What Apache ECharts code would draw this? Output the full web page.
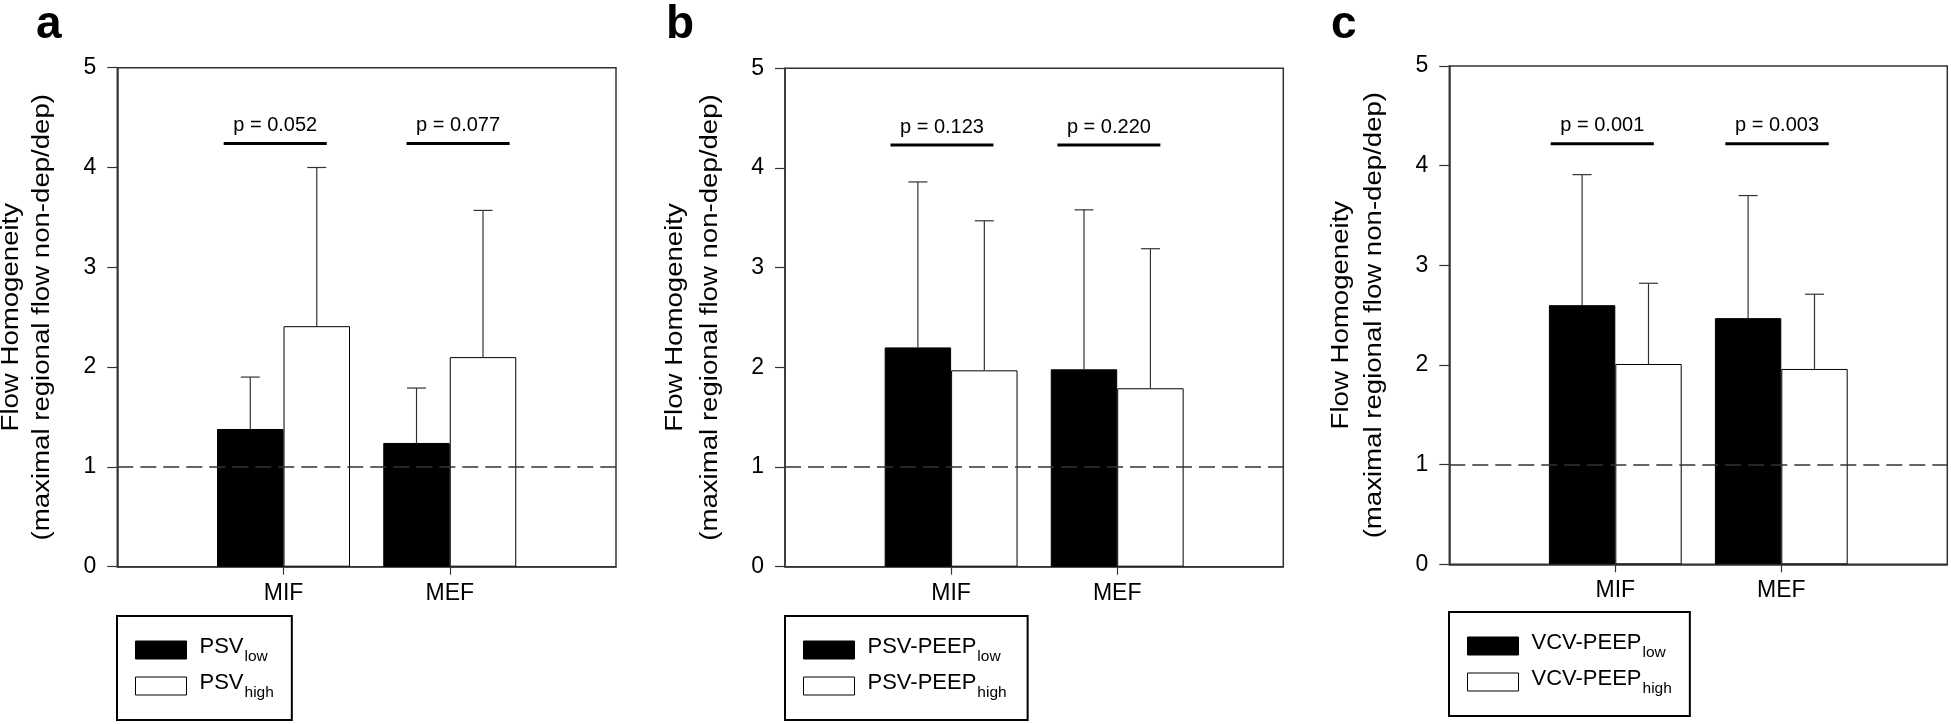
<!DOCTYPE html>
<html>
<head>
<meta charset="utf-8">
<script src="https://cdn.jsdelivr.net/npm/echarts@6/dist/echarts.min.js"></script>
<style>html,body{margin:0;padding:0;background:#fff}#chart{width:1951px;height:724px}</style>
</head>
<body>
<div id="chart"></div>
<script>
// ---------- data ----------
const categories = ['MIF', 'MEF'];
const yTicks = [0, 1, 2, 3, 4, 5];
const panelLabels = ['a', 'b', 'c'];
const lowNames = ['PSV|low', 'PSV-PEEP|low', 'VCV-PEEP|low'];
const highNames = ['PSV|high', 'PSV-PEEP|high', 'VCV-PEEP|high'];
const yTitle1 = 'Flow Homogeneity';
const yTitle2 = '(maximal regional flow non-dep/dep)';

const aLow = [1.38, 1.24];
const aLowSD = [0.52, 0.55];
const aHigh = [2.41, 2.10];
const aHighSD = [1.59, 1.47];

const bLow = [2.20, 1.98];
const bLowSD = [1.66, 1.60];
const bHigh = [1.97, 1.79];
const bHighSD = [1.50, 1.40];

const cLow = [2.60, 2.47];
const cLowSD = [1.31, 1.23];
const cHigh = [2.01, 1.96];
const cHighSD = [0.81, 0.75];

const aP = ['p = 0.052', 'p = 0.077'];
const bP = ['p = 0.123', 'p = 0.220'];
const cP = ['p = 0.001', 'p = 0.003'];
// comparison bracket extents in category units (MIF = 1, MEF = 2)
const aPSpan = [[0.64, 1.26], [1.74, 2.36]];
const bPSpan = [[0.635, 1.255], [1.64, 2.26]];
const cPSpan = [[0.611, 1.232], [1.663, 2.286]];
const pLevel = [4.24, 4.23, 4.22];
const refLevel = 1;

// ---------- layout / style ----------
const FONT = '"Liberation Sans", Arial, Helvetica, sans-serif';
const AXC = '#333';
const gridsPos = [
  { left: 117.3, top: 67.7, width: 498.7, height: 499 },
  { left: 785, top: 68.3, width: 498.3, height: 498.4 },
  { left: 1449.3, top: 66, width: 498, height: 498.3 }
];
const legendPos = [
  { left: 117, top: 616, padR: 18 },
  { left: 785, top: 616, padR: 21 },
  { left: 1449, top: 612, padR: 18 }
];
const titleX = [[11.4, 43.1], [675.7, 710.9], [1342.1, 1374.6]];
const labelX = [36, 666, 1331];

const lows = [aLow, bLow, cLow];
const lowSDs = [aLowSD, bLowSD, cLowSD];
const highs = [aHigh, bHigh, cHigh];
const highSDs = [aHighSD, bHighSD, cHighSD];
const ps = [aP, bP, cP];
const pSpans = [aPSpan, bPSpan, cPSpan];

function errRender(side) {
  return function (params, api) {
    const idx = api.value(0), mean = api.value(1), sd = api.value(2);
    const bw = api.size([1, 0])[0];
    const base = api.coord([idx, mean]);
    const top = api.coord([idx, mean + sd]);
    const x = base[0] + side * 0.2 * bw;
    return {
      type: 'group',
      children: [
        { type: 'line', shape: { x1: x, y1: base[1], x2: x, y2: top[1] }, style: { stroke: AXC, lineWidth: 1.2 } },
        { type: 'line', shape: { x1: x - 9.5, y1: top[1], x2: x + 9.5, y2: top[1] }, style: { stroke: AXC, lineWidth: 1.2 } }
      ]
    };
  };
}

function pRender(spans, labels, level) {
  return function (params, api) {
    const s = spans[params.dataIndex];
    const p0 = api.coord([s[0], level]);
    const p1 = api.coord([s[1], level]);
    return {
      type: 'group',
      children: [
        { type: 'line', shape: { x1: p0[0], y1: p0[1], x2: p1[0], y2: p1[1] }, style: { stroke: '#000', lineWidth: 3 } },
        { type: 'text', x: (p0[0] + p1[0]) / 2, y: p0[1] - 8,
          style: { text: labels[params.dataIndex], fontSize: 20, fontFamily: FONT, fill: '#000', align: 'center', verticalAlign: 'bottom' } }
      ]
    };
  };
}

const grid = [], xAxis = [], yAxis = [], series = [], legend = [], graphic = [];
const catData = [''].concat(categories, ['']);

for (let i = 0; i < 3; i++) {
  grid.push(Object.assign({ show: true, borderColor: AXC, borderWidth: 1.5, backgroundColor: 'transparent', containLabel: false }, gridsPos[i]));
  xAxis.push({
    type: 'category', gridIndex: i, data: catData, boundaryGap: false,
    axisLine: { show: true, lineStyle: { color: AXC, width: 1.5 } },
    axisTick: { show: true, length: 8, interval: function (idx) { return idx === 1 || idx === 2; }, lineStyle: { color: AXC, width: 1.2 } },
    axisLabel: { interval: 0, fontSize: 23, color: '#000', fontFamily: FONT, margin: 15 },
    splitLine: { show: false }
  });
  xAxis.push({ type: 'value', gridIndex: i, min: 0, max: 3, show: false });
  yAxis.push({
    type: 'value', gridIndex: i, min: yTicks[0], max: yTicks[yTicks.length - 1], interval: 1,
    axisLine: { show: true, lineStyle: { color: AXC, width: 1.5 } },
    axisTick: { show: true, length: 10, lineStyle: { color: AXC, width: 1.2 } },
    axisLabel: { fontSize: 23, color: '#000', fontFamily: FONT, margin: 21 },
    splitLine: { show: false }
  });

  series.push({
    name: lowNames[i], type: 'bar', xAxisIndex: 2 * i, yAxisIndex: i,
    data: ['-'].concat(lows[i], ['-']),
    barWidth: '40%', barGap: '0%',
    itemStyle: { color: '#000', borderColor: '#000', borderWidth: 1 },
    markLine: {
      silent: true, symbol: 'none', label: { show: false },
      lineStyle: { type: [16, 7], color: AXC, width: 1.5 },
      data: [{ yAxis: refLevel }]
    },
    z: 2
  });
  series.push({
    name: highNames[i], type: 'bar', xAxisIndex: 2 * i, yAxisIndex: i,
    data: ['-'].concat(highs[i], ['-']),
    barWidth: '40%', barGap: '0%',
    itemStyle: { color: '#fff', borderColor: '#000', borderWidth: 1 },
    z: 2
  });
  series.push({
    type: 'custom', xAxisIndex: 2 * i, yAxisIndex: i, z: 3,
    renderItem: errRender(-1),
    data: lows[i].map((v, k) => [k + 1, v, lowSDs[i][k]])
  });
  series.push({
    type: 'custom', xAxisIndex: 2 * i, yAxisIndex: i, z: 3,
    renderItem: errRender(1),
    data: highs[i].map((v, k) => [k + 1, v, highSDs[i][k]])
  });
  series.push({
    type: 'custom', xAxisIndex: 2 * i + 1, yAxisIndex: i, z: 4,
    renderItem: pRender(pSpans[i], ps[i], pLevel[i]),
    data: pSpans[i].map(s => [(s[0] + s[1]) / 2, pLevel[i]])
  });

  legend.push({
    orient: 'vertical', left: legendPos[i].left, top: legendPos[i].top,
    data: [lowNames[i], highNames[i]],
    icon: 'rect', itemWidth: 51, itemHeight: 18, itemGap: 6,
    padding: [19, legendPos[i].padR, 19, 18],
    borderColor: '#000', borderWidth: 2, borderRadius: 0,
    selectedMode: false,
    itemStyle: { borderColor: '#000', borderWidth: 1 },
    formatter: function (name) { const p = name.split('|'); return '{m|' + p[0] + '}{s|' + p[1] + '}'; },
    textStyle: {
      rich: {
        m: { fontSize: 22, lineHeight: 30, color: '#000', fontFamily: FONT, verticalAlign: 'top', padding: [1, 0, 0, 8] },
        s: { fontSize: 15.5, lineHeight: 30, color: '#000', fontFamily: FONT, verticalAlign: 'top', padding: [14, 0, 0, 1] }
      }
    }
  });

  const cy = gridsPos[i].top + gridsPos[i].height / 2;
  graphic.push({ type: 'text', x: titleX[i][0], y: cy, rotation: Math.PI / 2, scaleX: 1.2, scaleY: 1,
    style: { text: yTitle1, fontSize: 23, fontFamily: FONT, fill: '#000', align: 'center', verticalAlign: 'middle' } });
  graphic.push({ type: 'text', x: titleX[i][1], y: cy, rotation: Math.PI / 2, scaleX: 1.2, scaleY: 1,
    style: { text: yTitle2, fontSize: 23, fontFamily: FONT, fill: '#000', align: 'center', verticalAlign: 'middle' } });
  graphic.push({ type: 'text', x: labelX[i], y: 25,
    style: { text: panelLabels[i], fontSize: 46, fontWeight: 'bold', fontFamily: FONT, fill: '#000', align: 'left', verticalAlign: 'middle' } });
}

const chart = echarts.init(document.getElementById('chart'), null, { renderer: 'canvas' });
chart.setOption({
  animation: false,
  backgroundColor: '#fff',
  grid, xAxis, yAxis, series, legend, graphic
});
</script>
</body>
</html>
